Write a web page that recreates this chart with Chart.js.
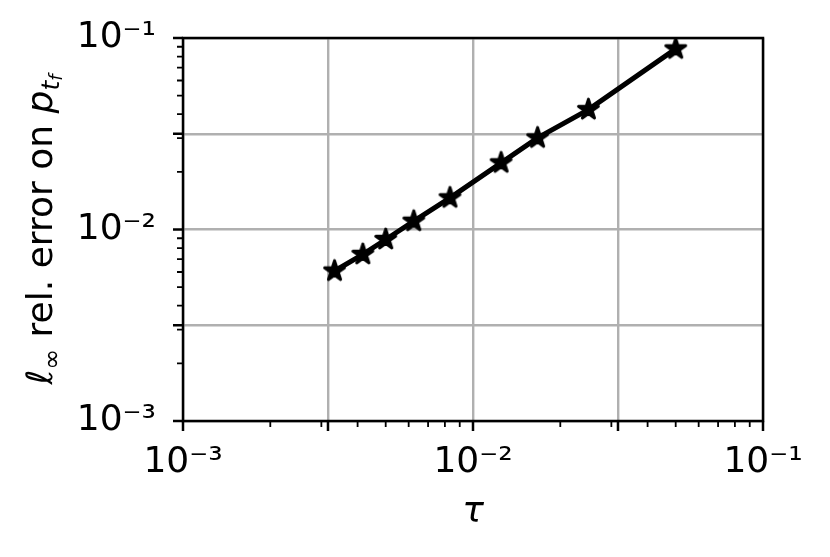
<!DOCTYPE html>
<html>
<head>
<meta charset="utf-8">
<script src="https://cdn.jsdelivr.net/npm/chart.js@4.4.1/dist/chart.umd.min.js"></script>
<style>
  html, body { margin: 0; padding: 0; background: #fff; }
  canvas { display: block; }
</style>
</head>
<body>
<canvas id="conv" width="830" height="557"></canvas>
<script>
/* convergence plot – log/log, relative error vs time step */

const tau    = [0.00333, 0.00417, 0.005, 0.00625, 0.00833, 0.0125, 0.0167, 0.025, 0.05];
const relErr = [0.00607, 0.00741, 0.00887, 0.01105, 0.01463, 0.02228, 0.03008, 0.04227, 0.0877];

const decadeTicks     = [0.001, 0.01, 0.1];
const halfDecadeTicks = [0.003162, 0.03162];
const minorTicks      = [0.002, 0.003, 0.004, 0.005, 0.006, 0.007, 0.008, 0.009,
                         0.02, 0.03, 0.04, 0.05, 0.06, 0.07, 0.08, 0.09];
const decadeLabels    = ['10⁻³', '10⁻²', '10⁻¹'];

const xTitle = 'τ';
// y label pieces: [text, role]
const yTitle = [['ℓ', 'math'], ['∞', 'sub'], [' rel. error on ', 'text'],
                ['p', 'math'], ['t', 'subMath'], ['f', 'subSubMath']];

const FONT = 'DejaVu Sans';
const FS = 36;
const allTicks = [...decadeTicks, ...halfDecadeTicks, ...minorTicks].sort((a, b) => a - b);
const isMinor = v => minorTicks.some(m => Math.abs(m - v) / m < 1e-6);

function tickLabel(v) {
  const i = decadeTicks.findIndex(d => Math.abs(d - v) / d < 1e-6);
  return i >= 0 ? decadeLabels[i] : '';
}

/* matplotlib-like filled star marker */
function starMarker(r) {
  const c = document.createElement('canvas');
  const size = Math.ceil(r * 2 + 6);
  c.width = c.height = size;
  const g = c.getContext('2d');
  g.translate(size / 2, size / 2);
  g.beginPath();
  for (let k = 0; k < 10; k++) {
    const rad = k % 2 ? r * 0.381966 : r;
    const a = -Math.PI / 2 + k * Math.PI / 5;
    g.lineTo(rad * Math.cos(a), rad * Math.sin(a));
  }
  g.closePath();
  g.fillStyle = '#000';
  g.fill();
  g.lineWidth = 2.8;
  g.lineJoin = 'round';
  g.strokeStyle = '#000';
  g.stroke();
  return c;
}

const frameAndTicks = {
  id: 'frameAndTicks',
  afterDatasetsDraw(chart) {
    const { ctx, chartArea: a, scales } = chart;
    ctx.save();
    ctx.strokeStyle = '#000';
    ctx.lineCap = 'butt';
    for (const v of allTicks) {
      const minor = isMinor(v);
      const len = minor ? 6 : 10;
      ctx.lineWidth = minor ? 1.8 : 2.5;
      const px = scales.x.getPixelForValue(v);
      const py = scales.y.getPixelForValue(v);
      ctx.beginPath();
      ctx.moveTo(px, a.bottom); ctx.lineTo(px, a.bottom + len);
      ctx.moveTo(a.left - len, py); ctx.lineTo(a.left, py);
      ctx.stroke();
    }
    ctx.lineWidth = 2.5;
    ctx.lineJoin = 'miter';
    ctx.strokeRect(a.left, a.top, a.right - a.left, a.bottom - a.top);
    ctx.restore();
  }
};

const yLabel = {
  id: 'yLabel',
  afterDraw(chart) {
    const { ctx, chartArea: a } = chart;
    const roles = {
      text:       { font: `${FS}px "${FONT}"`,        dy: 0 },
      math:       { font: `italic ${FS}px "${FONT}"`, dy: 0 },
      sub:        { font: `25px "${FONT}"`,           dy: 8 },
      subMath:    { font: `italic 25px "${FONT}"`,    dy: 7 },
      subSubMath: { font: `italic 18px "${FONT}"`,    dy: 10 },
    };
    ctx.save();
    let total = 0;
    const parts = yTitle.map(([t, role]) => {
      ctx.font = roles[role].font;
      const w = ctx.measureText(t).width;
      total += w;
      return { t, w, ...roles[role] };
    });
    ctx.translate(52, (a.top + a.bottom) / 2);
    ctx.rotate(-Math.PI / 2);
    ctx.fillStyle = '#000';
    ctx.textBaseline = 'alphabetic';
    let x = -total / 2;
    for (const p of parts) {
      ctx.font = p.font;
      ctx.fillText(p.t, x, p.dy);
      x += p.w;
    }
    ctx.restore();
  }
};

function logAxis(extra = {}) {
  return {
    type: 'logarithmic',
    min: 0.001,
    max: 0.1,
    afterBuildTicks: s => { s.ticks = allTicks.map(v => ({ value: v })); },
    border: { display: false },
    grid: {
      drawTicks: false,
      tickLength: 0,
      lineWidth: 2.4,
      color: c => (c.tick && !isMinor(c.tick.value)) ? '#b0b0b0' : 'rgba(0,0,0,0)',
    },
    ticks: {
      autoSkip: false,
      maxRotation: 0,
      color: '#000',
      font: { family: FONT, size: FS },
      callback: v => tickLabel(v),
    },
    ...extra,
  };
}

const xAxis = logAxis({
  afterFit: s => { s.height = 136; s.paddingLeft = 0; s.paddingRight = 0; },
  title: {
    display: true,
    text: xTitle,
    color: '#000',
    font: { family: FONT, size: FS, style: 'italic' },
    padding: { top: 0, bottom: 23 },
  },
});
xAxis.ticks = { ...xAxis.ticks, padding: 20 };

const yAxis = logAxis({ afterFit: s => { s.width = 183; s.paddingTop = 0; s.paddingBottom = 0; } });
yAxis.ticks = { ...yAxis.ticks, padding: 27 };

new Chart(document.getElementById('conv'), {
  type: 'line',
  data: {
    datasets: [{
      data: tau.map((t, i) => ({ x: t, y: relErr[i] })),
      borderColor: '#000',
      borderWidth: 5,
      backgroundColor: '#000',
      pointStyle: starMarker(10.5),
      pointRadius: 11,
      pointHoverRadius: 11,
      tension: 0,
      fill: false,
    }],
  },
  options: {
    responsive: false,
    animation: false,
    devicePixelRatio: 1,
    layout: { padding: { left: 0, top: 38, right: 67, bottom: 0 } },
    plugins: {
      legend: { display: false },
      tooltip: { enabled: false },
    },
    scales: { x: xAxis, y: yAxis },
  },
  plugins: [frameAndTicks, yLabel],
});
</script>
</body>
</html>
